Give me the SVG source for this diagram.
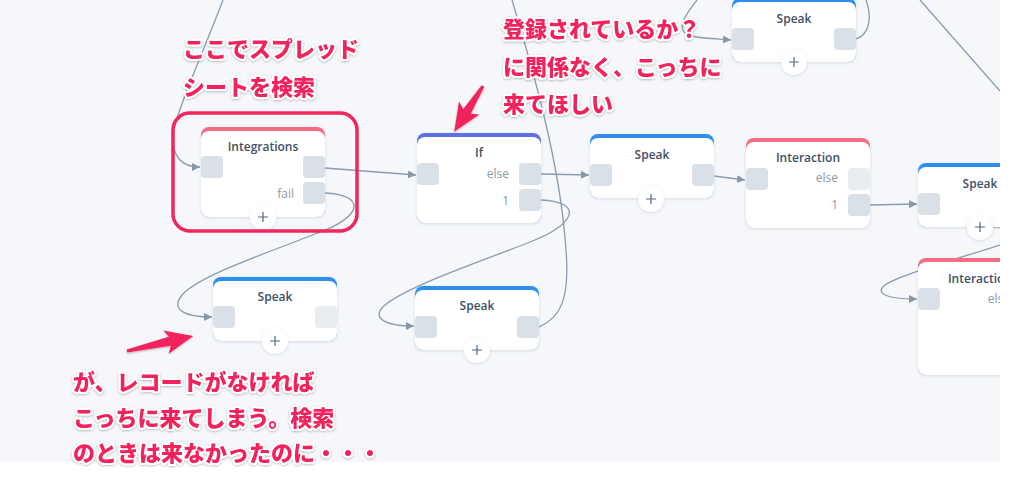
<svg xmlns="http://www.w3.org/2000/svg" width="1024" height="500" viewBox="0 0 1024 500">
<defs>
<style>
.body{fill:#ffffff}
.hb{fill:#2f8ff0}
.hr{fill:#f26d82}
.hp{fill:#5b6fe6}
.port{fill:#d9e0e8}
.portl{fill:#e9edf2}
.title{font-family:"Open Sans","Liberation Sans",sans-serif;font-size:12px;font-weight:600;fill:#3e4f66;text-anchor:middle}
.plab{font-family:"Open Sans","Liberation Sans",sans-serif;font-size:12px;fill:#8b98a9;text-anchor:end}
.pc{fill:#ffffff}
.pl{stroke:#55677d;stroke-width:1.2;fill:none}
.conn path{fill:none;stroke:#8a9bb0;stroke-width:1.3}
.note{font-family:"Noto Sans CJK JP",sans-serif;font-size:22px;font-weight:900;fill:#f2245c;stroke:#ffffff;stroke-width:4;stroke-linejoin:round;paint-order:stroke}
.ann{fill:#f2245c}
</style>
<filter id="sh" x="-20%" y="-20%" width="140%" height="150%">
<feDropShadow dx="0" dy="1" stdDeviation="1.5" flood-color="#7a8aa0" flood-opacity="0.25"/>
</filter>
<filter id="tsh" x="-10%" y="-30%" width="120%" height="160%">
<feDropShadow dx="0" dy="1" stdDeviation="1.2" flood-color="#000000" flood-opacity="0.25"/>
</filter>
<marker id="ah" markerWidth="9" markerHeight="9" refX="8" refY="4.5" orient="auto" markerUnits="userSpaceOnUse">
<path d="M0,0.5 L8,4.5 L0,8.5 z" fill="#8797aa"/>
</marker>
<clipPath id="cv"><rect x="0" y="0" width="1000" height="462"/></clipPath>
</defs>
<rect x="0" y="0" width="1024" height="500" fill="#ffffff"/>
<rect x="0" y="0" width="1000" height="462" fill="#f5f7fa"/>
<g clip-path="url(#cv)">
<g class="conn" id="connectors">
<path d="M223,0 C200,60 175,115 173,135 C172,155 180,167 200,167" marker-end="url(#ah)"/>
<path d="M325,168 L416,175" marker-end="url(#ah)"/>
<path d="M325,193 C368,195 362,218 315,234 C270,252 200,275 182,295 C170,310 185,317 212,317" marker-end="url(#ah)"/>
<path d="M541,174 L589,175" marker-end="url(#ah)"/>
<path d="M541,200 C585,202 575,225 530,242 C480,262 410,285 385,305 C370,318 385,326 414,326" marker-end="url(#ah)"/>
<path d="M714,176 L745,180" marker-end="url(#ah)"/>
<path d="M870,205 L917,204" marker-end="url(#ah)"/>
<path d="M539,327 C560,318 570,300 566,250 C560,160 530,60 512,0"/>
<path d="M1000,245 C960,258 900,275 885,285 C875,293 885,299 917,299" marker-end="url(#ah)"/>
<path d="M993,227 L1000,227"/>
<path d="M697,0 C688,12 678,24 684,32 C690,38 705,38 731,40" marker-end="url(#ah)"/>
<path d="M856,39 C868,35 873,20 866,0"/>
<path d="M920,0 L1000,91"/>
</g>
<g id="node-integrations">
<rect class="hr" x="201" y="127" width="124" height="90" rx="8" filter="url(#sh)"/>
<rect class="body" x="201" y="131" width="124" height="86" rx="8"/>
<text class="title" x="263" y="151">Integrations</text>
<rect class="port" x="201" y="156" width="22" height="22" rx="4"/>
<rect class="port" x="303" y="156" width="22" height="22" rx="4"/>
<rect class="port" x="303" y="182" width="22" height="22" rx="4"/>
<text class="plab" x="294" y="198">fail</text>
<circle class="pc" cx="263" cy="217" r="13" filter="url(#sh)"/>
<path class="pl" d="M258,217 H268 M263,212 V222"/>
</g>
<g id="node-if">
<rect class="hp" x="417" y="133" width="124" height="90" rx="8" filter="url(#sh)"/>
<rect class="body" x="417" y="137" width="124" height="86" rx="8"/>
<text class="title" x="479" y="157">If</text>
<rect class="port" x="417" y="163" width="22" height="22" rx="4"/>
<rect class="port" x="519" y="163" width="22" height="22" rx="4"/>
<rect class="port" x="519" y="189" width="22" height="22" rx="4"/>
<text class="plab" x="509" y="178">else</text>
<text class="plab" x="509" y="205">1</text>
</g>
<g id="node-speak-mid">
<rect class="hb" x="590" y="134" width="124" height="64" rx="8" filter="url(#sh)"/>
<rect class="body" x="590" y="138" width="124" height="60" rx="8"/>
<text class="title" x="652" y="159">Speak</text>
<rect class="port" x="590" y="164" width="22" height="22" rx="4"/>
<rect class="port" x="692" y="164" width="22" height="22" rx="4"/>
<circle class="pc" cx="651" cy="199" r="13" filter="url(#sh)"/>
<path class="pl" d="M646,199 H656 M651,194 V204"/>
</g>
<g id="node-interaction-mid">
<rect class="hr" x="746" y="138" width="124" height="90" rx="8" filter="url(#sh)"/>
<rect class="body" x="746" y="142" width="124" height="86" rx="8"/>
<text class="title" x="808" y="162">Interaction</text>
<rect class="port" x="746" y="168" width="22" height="22" rx="4"/>
<rect class="portl" x="848" y="168" width="22" height="22" rx="4"/>
<rect class="port" x="848" y="194" width="22" height="22" rx="4"/>
<text class="plab" x="838" y="182">else</text>
<text class="plab" x="838" y="209">1</text>
</g>
<g id="node-speak-right">
<rect class="hb" x="918" y="163" width="124" height="64" rx="8" filter="url(#sh)"/>
<rect class="body" x="918" y="167" width="124" height="60" rx="8"/>
<text class="title" x="980" y="188">Speak</text>
<rect class="port" x="918" y="193" width="22" height="22" rx="4"/>
<circle class="pc" cx="980" cy="227" r="13" filter="url(#sh)"/>
<path class="pl" d="M975,227 H985 M980,222 V232"/>
</g>
<g id="node-interaction-right">
<rect class="hr" x="918" y="258" width="124" height="117" rx="8" filter="url(#sh)"/>
<rect class="body" x="918" y="262" width="124" height="113" rx="8"/>
<text class="title" x="980" y="283">Interaction</text>
<rect class="port" x="918" y="288" width="22" height="22" rx="4"/>
<text class="plab" x="1010" y="303">else</text>
</g>
<g id="node-speak-top">
<rect class="hb" x="732" y="-2" width="124" height="64" rx="8" filter="url(#sh)"/>
<rect class="body" x="732" y="2" width="124" height="60" rx="8"/>
<text class="title" x="794" y="23">Speak</text>
<rect class="port" x="732" y="28" width="22" height="22" rx="4"/>
<rect class="port" x="834" y="28" width="22" height="22" rx="4"/>
<circle class="pc" cx="794" cy="62" r="13" filter="url(#sh)"/>
<path class="pl" d="M789,62 H799 M794,57 V67"/>
</g>
<g id="node-speak-lowleft">
<rect class="hb" x="213" y="277" width="124" height="64" rx="8" filter="url(#sh)"/>
<rect class="body" x="213" y="281" width="124" height="60" rx="8"/>
<text class="title" x="275" y="301">Speak</text>
<rect class="port" x="213" y="306" width="22" height="22" rx="4"/>
<rect class="portl" x="315" y="306" width="22" height="22" rx="4"/>
<circle class="pc" cx="275" cy="341" r="13" filter="url(#sh)"/>
<path class="pl" d="M270,341 H280 M275,336 V346"/>
</g>
<g id="node-speak-lowmid">
<rect class="hb" x="415" y="286" width="124" height="64" rx="8" filter="url(#sh)"/>
<rect class="body" x="415" y="290" width="124" height="60" rx="8"/>
<text class="title" x="477" y="310">Speak</text>
<rect class="port" x="415" y="316" width="22" height="22" rx="4"/>
<rect class="port" x="517" y="316" width="22" height="22" rx="4"/>
<circle class="pc" cx="477" cy="350" r="13" filter="url(#sh)"/>
<path class="pl" d="M472,350 H482 M477,345 V355"/>
</g>
</g>
<g id="highlight">
<rect x="173" y="113" width="184" height="118" rx="17" fill="none" stroke="#f0265c" stroke-width="3.5"/>
</g>
<g id="annotations" filter="url(#tsh)">
<polygon class="ann" points="0,-1.5 30,-4.5 26,-12 54,0 26,12 30,4.5 0,1.5" transform="translate(483,86) rotate(122.2)"/>
<polygon class="ann" points="0,-1.5 44,-4.5 40,-12 68,0 40,12 44,4.5 0,1.5" transform="translate(127,351) rotate(-12.8)"/>
<text class="note" x="183" y="57">ここでスプレッド</text>
<text class="note" x="183" y="95">シートを検索</text>
<text class="note" x="503" y="37">登録されているか？</text>
<text class="note" x="503" y="75">に関係なく、こっちに</text>
<text class="note" x="503" y="112">来てほしい</text>
<text class="note" x="73" y="390">が、レコードがなければ</text>
<text class="note" x="73" y="426">こっちに来てしまう。検索</text>
<text class="note" x="73" y="461">のときは来なかったのに・・・</text>
</g>
</svg>
